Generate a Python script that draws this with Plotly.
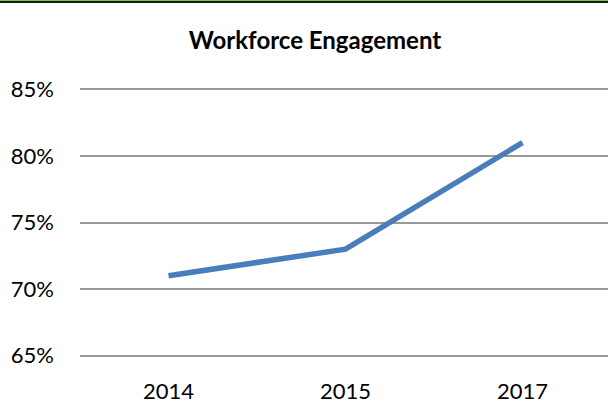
import plotly.graph_objects as go

years = ["2014", "2015", "2017"]
engagement = [0.71, 0.73, 0.81]
y_ticks = [0.65, 0.70, 0.75, 0.80, 0.85]
y_tick_labels = ["65%", "70%", "75%", "80%", "85%"]

fig = go.Figure()
fig.add_trace(go.Scatter(
    x=years, y=engagement, mode="lines",
    line=dict(color="#4A7EBB", width=5.5),
    hoverinfo="skip",
))

W, H = 608, 403
fig.update_layout(
    width=W, height=H,
    margin=dict(l=80, r=0, t=88, b=46),
    paper_bgcolor="white", plot_bgcolor="white",
    showlegend=False,
    font=dict(family="Lato, Open Sans, sans-serif", color="#000000", size=22),
    title=dict(
        text="<b>Workforce Engagement</b>",
        x=315 / W, xanchor="center", xref="container",
        y=1 - 41 / H, yanchor="middle", yref="container",
        font=dict(family="Lato, sans-serif", size=24, color="#000000"),
    ),
    xaxis=dict(
        type="category", range=[-0.5, 2.483],
        showgrid=False, showline=False, zeroline=False,
        ticks="", ticklabelstandoff=19,
        tickfont=dict(size=22),
    ),
    yaxis=dict(
        range=[0.649, 0.851], tickvals=y_ticks, ticktext=y_tick_labels,
        showgrid=True, gridcolor="#989898", gridwidth=2,
        showline=False, zeroline=False, ticks="",
        ticklabelstandoff=25, tickfont=dict(size=22),
    ),
    shapes=[
        dict(type="rect", xref="paper", yref="paper",
             x0=-80 / 528, x1=1.01, y0=1 + 87 / 269, y1=1 + 89 / 269,
             fillcolor="#7DC242", line=dict(width=0), layer="above"),
        dict(type="rect", xref="paper", yref="paper",
             x0=-80 / 528, x1=1.01, y0=1 + 85 / 269, y1=1 + 87 / 269,
             fillcolor="#1A1A1A", line=dict(width=0), layer="above"),
    ],
)

fig.write_html(
    "out.html",
    config={"displayModeBar": False},
    post_script="document.body.style.margin='0';document.body.style.overflow='hidden';",
)
